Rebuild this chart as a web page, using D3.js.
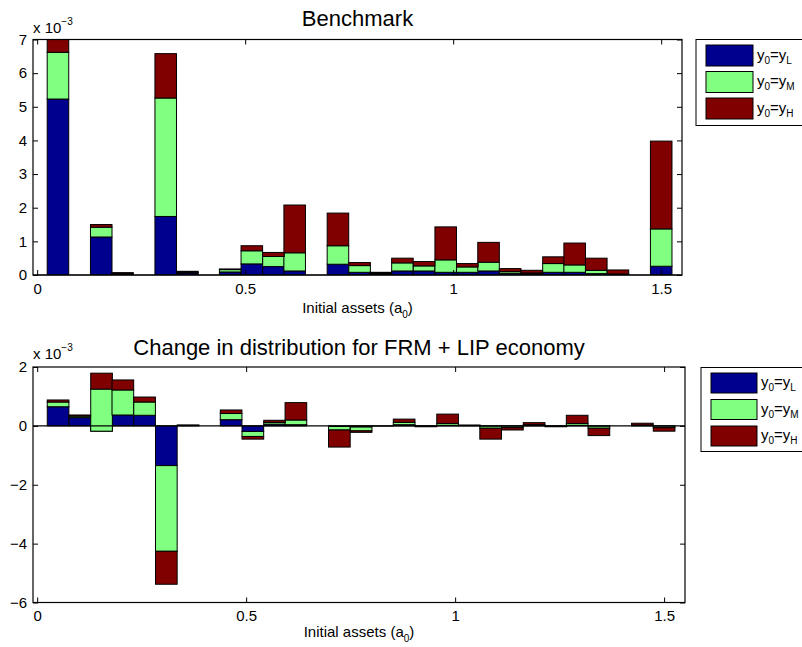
<!DOCTYPE html>
<html>
<head>
<meta charset="utf-8">
<script src="https://cdn.jsdelivr.net/npm/d3@7"></script>
<style>
  body { margin: 0; background: #fff; }
  svg { display: block; }
  text { font-family: "Liberation Sans", Arial, Helvetica, sans-serif; fill: #000; }
</style>
</head>
<body>
<svg id="chart" width="802" height="647"></svg>
<script>
// asset grid (bin centres) shared by both panels
const assetGrid = [
  0.050, 0.102, 0.154, 0.205, 0.257, 0.309, 0.361, 0.412, 0.464, 0.516,
  0.568, 0.619, 0.671, 0.723, 0.775, 0.826, 0.878, 0.930, 0.982, 1.034,
  1.085, 1.137, 1.189, 1.241, 1.292, 1.344, 1.396, 1.448, 1.500
];
const binWidth = 0.0518;

const seriesKeys = ["L", "M", "H"];
const seriesColors = ["#00008f", "#80ff80", "#800000"];

// benchmark distribution, x 10^-3
const benchL = [5.23, 0, 1.13, 0.03, 0, 1.74, 0.06, 0, 0.09, 0.33, 0.25, 0.12, 0, 0.32, 0.08,
  0.03, 0.12, 0.12, 0.08, 0.08, 0.12, 0.05, 0.03, 0.08, 0.08, 0.04, 0.01, 0, 0.26];
const benchM = [1.39, 0, 0.29, 0.02, 0, 3.52, 0.02, 0, 0.07, 0.39, 0.30, 0.54, 0, 0.55, 0.20,
  0.03, 0.24, 0.15, 0.37, 0.16, 0.26, 0.05, 0.03, 0.26, 0.22, 0.10, 0.02, 0, 1.11];
const benchH = [0.68, 0, 0.08, 0.02, 0, 1.32, 0.03, 0, 0.02, 0.15, 0.12, 1.42, 0, 0.97, 0.09,
  0.02, 0.14, 0.13, 0.98, 0.10, 0.59, 0.09, 0.08, 0.20, 0.65, 0.36, 0.12, 0, 2.61];

// change FRM + LIP vs benchmark, x 10^-3
const changeL = [0.65, 0.28, -0.18, 0.37, 0.36, -1.35, 0.01, 0, 0.21, -0.19, 0.06, 0.04, 0, -0.02, -0.04,
  0, 0.04, -0.01, 0.02, 0, -0.01, -0.01, 0.01, -0.01, 0.02, -0.01, 0, 0.01, -0.01];
const changeM = [0.16, 0.05, 1.43, 0.85, 0.45, -2.91, 0.01, 0, 0.21, -0.17, 0.06, 0.16, 0, -0.12, -0.13,
  -0.01, 0.08, -0.02, 0.06, 0.01, -0.07, -0.05, 0.03, -0.01, 0.06, -0.07, 0, 0.02, -0.05];
const changeH = [0.07, 0.04, 0.54, 0.34, 0.17, -1.12, 0.01, 0, 0.12, -0.09, 0.07, 0.59, 0, -0.58, -0.05,
  0, 0.11, 0, 0.32, 0.02, -0.37, -0.08, 0.07, -0.01, 0.28, -0.25, 0, 0.06, -0.12];

const xTicks = [0, 0.5, 1, 1.5];
const benchTicks = [0, 1, 2, 3, 4, 5, 6, 7];
const changeTicks = [-6, -4, -2, 0, 2];

const svg = d3.select("#chart");

const panels = [
  {
    id: "bench", title: "Benchmark", series: [benchL, benchM, benchH],
    left: 33, right: 682, top: 39.5, bottom: 275,
    yDomain: [0, 7], yTicks: benchTicks,
    titleY: 26, labelY: 313, expY: 32.5,
    legend: { x: 696, y: 39.5, w: 120, h: 86, sx: 706, sw: 47, rows: [45, 71.5, 98], sh: 21, tx: 757 }
  },
  {
    id: "change", title: "Change in distribution for FRM + LIP economy", series: [changeL, changeM, changeH],
    left: 33, right: 685, top: 367, bottom: 602.5,
    yDomain: [-6, 2], yTicks: changeTicks,
    titleY: 355, labelY: 637, expY: 359,
    legend: { x: 701, y: 367.5, w: 120, h: 84, sx: 711, sw: 46, rows: [373, 399.5, 426], sh: 20, tx: 761 }
  }
];

panels.forEach(drawPanel);

function drawPanel(p) {
  const x = d3.scaleLinear().domain([-0.01, 1.55]).range([p.left, p.right]);
  const y = d3.scaleLinear().domain(p.yDomain).range([p.bottom, p.top]);
  const g = svg.append("g");

  g.append("clipPath").attr("id", "clip-" + p.id)
    .append("rect")
    .attr("x", p.left).attr("y", p.top)
    .attr("width", p.right - p.left).attr("height", p.bottom - p.top);

  // old-style matlab stacking: each series sits on the running total
  const cum = assetGrid.map(() => 0);
  const stacked = p.series.map((vals, k) =>
    vals.map((v, i) => {
      const lo = cum[i];
      cum[i] += v;
      return { a: assetGrid[i], lo: lo, hi: cum[i], k: k };
    })
  );

  const bars = g.append("g").attr("clip-path", "url(#clip-" + p.id + ")");
  stacked.forEach((layer, k) => {
    bars.append("g")
      .selectAll("rect")
      .data(layer)
      .join("rect")
      .attr("x", (d) => x(d.a - binWidth / 2))
      .attr("width", (d) => x(d.a + binWidth / 2) - x(d.a - binWidth / 2))
      .attr("y", (d) => y(Math.max(d.lo, d.hi)))
      .attr("height", (d) => Math.abs(y(d.lo) - y(d.hi)))
      .attr("fill", seriesColors[k])
      .attr("stroke", "#000")
      .attr("stroke-width", 1);
  });

  // baseline
  g.append("line")
    .attr("x1", p.left).attr("x2", p.right)
    .attr("y1", y(0)).attr("y2", y(0))
    .attr("stroke", "#000").attr("stroke-width", 1.2);

  const fmt = (d) => (d < 0 ? "\u2212" + Math.abs(d) : String(d));

  const xAxis = g.append("g")
    .attr("transform", `translate(0,${p.bottom})`)
    .call(d3.axisBottom(x).tickValues(xTicks).tickSize(-5).tickSizeOuter(0).tickPadding(8).tickFormat(fmt));
  const xTop = g.append("g")
    .attr("transform", `translate(0,${p.top})`)
    .call(d3.axisTop(x).tickValues(xTicks).tickSize(-5).tickSizeOuter(0).tickFormat(""));
  const yAxis = g.append("g")
    .attr("transform", `translate(${p.left},0)`)
    .call(d3.axisLeft(y).tickValues(p.yTicks).tickSize(-5).tickSizeOuter(0).tickPadding(6).tickFormat(fmt));
  const yRight = g.append("g")
    .attr("transform", `translate(${p.right},0)`)
    .call(d3.axisRight(y).tickValues(p.yTicks).tickSize(-5).tickSizeOuter(0).tickFormat(""));

  [xAxis, xTop, yAxis, yRight].forEach((a) => {
    a.select(".domain").remove();
    a.selectAll("line").attr("stroke", "#000");
    a.selectAll("text").attr("font-size", 15).attr("font-family", null);
  });

  g.append("rect")
    .attr("x", p.left).attr("y", p.top)
    .attr("width", p.right - p.left).attr("height", p.bottom - p.top)
    .attr("fill", "none").attr("stroke", "#000").attr("stroke-width", 1.2);

  // exponent label
  const exp = g.append("text").attr("x", p.left).attr("y", p.expY).attr("font-size", 15);
  exp.append("tspan").text("x 10");
  exp.append("tspan").attr("dy", -8).attr("font-size", 10).text("\u22123");

  g.append("text")
    .attr("x", (p.left + p.right) / 2).attr("y", p.titleY)
    .attr("text-anchor", "middle").attr("font-size", 22)
    .text(p.title);

  const lab = g.append("text")
    .attr("x", (p.left + p.right) / 2).attr("y", p.labelY)
    .attr("text-anchor", "middle").attr("font-size", 15);
  lab.append("tspan").text("Initial assets (a");
  lab.append("tspan").attr("dy", 5).attr("font-size", 10).text("0");
  lab.append("tspan").attr("dy", -5).text(")");

  // legend
  const L = p.legend;
  const lg = g.append("g");
  lg.append("rect")
    .attr("x", L.x).attr("y", L.y).attr("width", L.w).attr("height", L.h)
    .attr("fill", "#fff").attr("stroke", "#000").attr("stroke-width", 1);
  seriesKeys.forEach((key, k) => {
    lg.append("rect")
      .attr("x", L.sx).attr("y", L.rows[k]).attr("width", L.sw).attr("height", L.sh)
      .attr("fill", seriesColors[k]).attr("stroke", "#000").attr("stroke-width", 1);
    const t = lg.append("text")
      .attr("x", L.tx).attr("y", L.rows[k] + L.sh / 2 + 4).attr("font-size", 15);
    t.append("tspan").text("y");
    t.append("tspan").attr("dy", 4).attr("font-size", 10).text("0");
    t.append("tspan").attr("dy", -4).text("=y");
    t.append("tspan").attr("dy", 4).attr("font-size", 10).text(key);
  });
}
</script>
</body>
</html>
